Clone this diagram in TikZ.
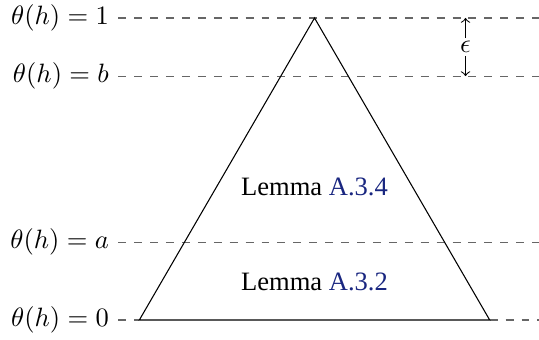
\documentclass[tikz,border=0pt]{standalone}
\usepackage{fontspec}
\setmainfont{Liberation Serif}
\usetikzlibrary{calc}
\definecolor{refblue}{rgb}{0.1,0.15,0.5}
\begin{document}
\begin{tikzpicture}[
	level/.style={draw=black!60, dashed},
	lvllabel/.style={anchor=east},
	gap/.style={draw=black, ->}]
		\useasboundingbox (-4.166,-0.252) rectangle (2.973,4.238);
		
		%Dreieck
		\coordinate (apex) at (0,4);
		\coordinate (bl) at (-2.32,0);
		\coordinate (br) at (2.32,0);
		
		%Ebenen
		\coordinate (l0) at (-2.6,0);    \coordinate (r0) at (3,0);
		\coordinate (la) at (-2.6,1.03); \coordinate (ra) at (3,1.03);
		\coordinate (lb) at (-2.6,3.23); \coordinate (rb) at (3,3.23);
		\coordinate (l1) at (-2.6,4);    \coordinate (r1) at (3,4);
		
		\draw[level] (l0) -- (bl);
		\draw[level] (br) -- (r0);
		\draw[level] (la) -- (ra);
		\draw[level] (lb) -- (rb);
		\draw[level] (l1) -- (r1);
		
		\draw (bl) -- (apex) -- (br) -- cycle;
		
		%Beschriftung links
		\node[lvllabel] (t0) at (l0) {$\theta(h) = 0$};
		\node[lvllabel] (ta) at (la) {$\theta(h) = a$};
		\node[lvllabel] (tb) at (lb) {$\theta(h) = b$};
		\node[lvllabel] (t1) at (l1) {$\theta(h) = 1$};
		
		%Lemmata
		\node (lemB) at (0,1.76) {Lemma \textcolor{refblue}{A.3.4}};
		\node (lemA) at (0,0.5) {Lemma \textcolor{refblue}{A.3.2}};
		
		%epsilon
		\node[inner sep=1pt] (eps) at (2,3.615) {$\epsilon$};
		\draw[gap] (eps) -- (eps |- r1);
		\draw[gap] (eps) -- (eps |- rb);
		
\end{tikzpicture}
\end{document}
